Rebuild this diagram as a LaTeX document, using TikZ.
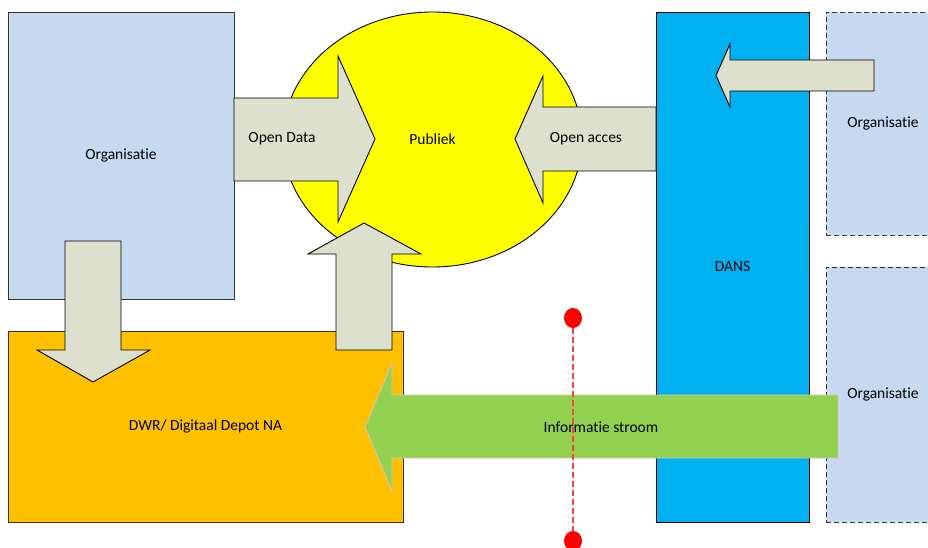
\documentclass[tikz,border=0pt]{standalone}
\usepackage{fontspec}
\setmainfont{Carlito}[Ligatures={NoCommon}]
\usetikzlibrary{shapes.geometric}
\definecolor{orgblue}{HTML}{C6D9F1}
\definecolor{dwrorange}{HTML}{FFC000}
\definecolor{danscyan}{HTML}{00B0F0}
\definecolor{arrowfill}{HTML}{DDE0CC}
\definecolor{flowgreen}{HTML}{92D050}
\definecolor{flowedge}{HTML}{E0C0B8}
\definecolor{edgegray}{HTML}{333333}
\definecolor{dashred}{HTML}{FF4040}
\definecolor{pubyellow}{HTML}{FFFF00}
\tikzset{
  box/.style={draw=edgegray, line width=0.9pt, inner sep=0pt, outer sep=0pt, anchor=center},
  dashbox/.style={box, dash pattern=on 5pt off 3pt},
  blockarrow/.style={draw=black, line width=0.9pt, fill=arrowfill, line join=miter},
  lbl/.style={inner sep=0pt, text=black},
  reddot/.style={ellipse, fill=red, minimum width=18pt, minimum height=20pt, inner sep=0pt}
}
\begin{document}
\begin{tikzpicture}[x=1pt, y=-1pt, font=\fontsize{15.5}{18}\selectfont]
\clip (0,0) rectangle (928,548);
\fill[white] (0,0) rectangle (928,548);
% main boxes
\node[box, fill=orgblue, minimum width=226pt, minimum height=287pt] (org) at (121,155.5) {Organisatie};
\node[box, fill=dwrorange, minimum width=395pt, minimum height=191pt] (dwr) at (205.5,426.5) {DWR/ Digitaal Depot NA};
\node[box, ellipse, draw=black, fill=pubyellow, minimum width=299pt, minimum height=255pt] (pub) at (432.5,139.5) {Publiek};
\node[box, draw=black, fill=danscyan, minimum width=153pt, minimum height=510pt] (dans) at (732.5,267) {DANS};
\node[dashbox, fill=orgblue, minimum width=114pt, minimum height=223pt] (orgA) at (883,123.5) {Organisatie};
\node[dashbox, fill=orgblue, minimum width=114pt, minimum height=255pt] (orgB) at (883,394.5) {Organisatie};
% block arrows
\draw[blockarrow] (234,98) -- (338,98) -- (338,56) -- (375,139) -- (338,222) -- (338,181) -- (234,181) -- cycle;
\node[lbl] (od) at (282,139) {Open Data};
\draw[blockarrow] (656,107) -- (543,107) -- (543,76) -- (515,139) -- (543,203) -- (543,171) -- (656,171) -- cycle;
\node[lbl] (oa) at (586,139) {Open acces};
\draw[blockarrow] (874,60) -- (730,60) -- (730,44) -- (716,75.5) -- (730,107) -- (730,91) -- (874,91) -- cycle;
\draw[blockarrow] (65,241) -- (121,241) -- (121,350) -- (150,350) -- (93,382) -- (37,350) -- (65,350) -- cycle;
\draw[blockarrow] (336,350) -- (336,254) -- (308,254) -- (364,223) -- (421,254) -- (392,254) -- (392,350) -- cycle;
\draw[draw=flowedge, line width=0.9pt, fill=flowgreen] (838,395) -- (392,395) -- (392,363) -- (365,427) -- (392,491) -- (392,458) -- (838,458) -- cycle;
\node[lbl] (flow) at (601,427) {Informatie stroom};
% red dashed marker
\node[reddot] (rtop) at (573,318) {};
\node[reddot] (rbot) at (573,541) {};
\draw[draw=dashred, line width=1.3pt, dash pattern=on 6pt off 3pt] (rtop) -- (rbot);
\end{tikzpicture}
\end{document}
